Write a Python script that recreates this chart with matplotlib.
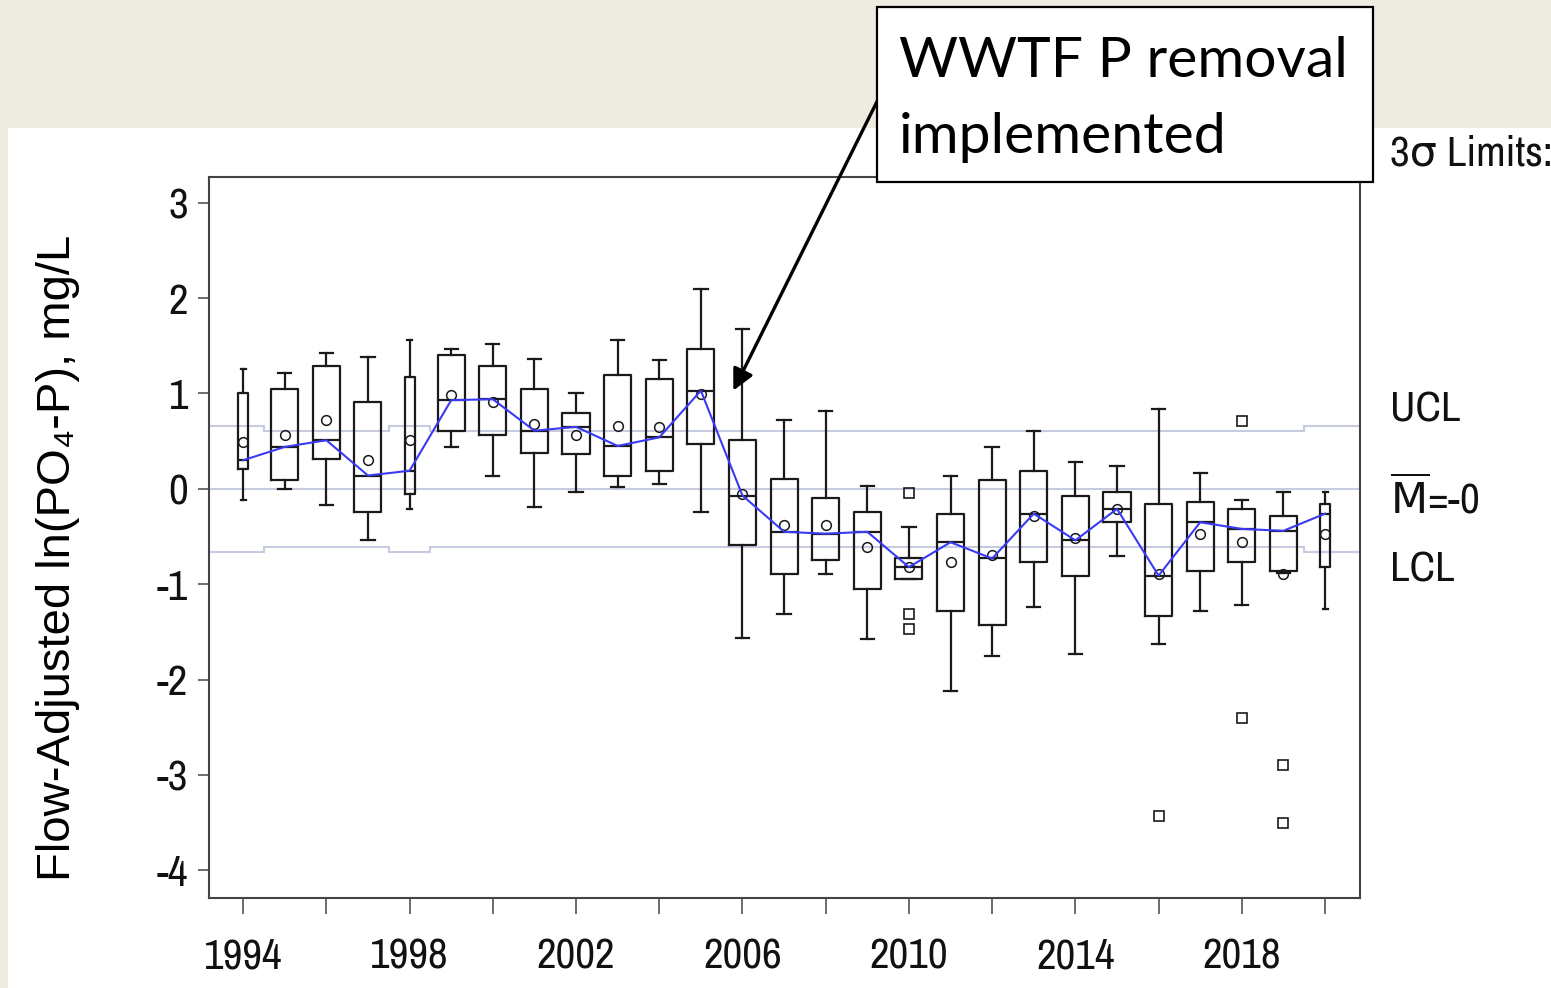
import numpy as np
import matplotlib
matplotlib.use("Agg")
import matplotlib.pyplot as plt
from matplotlib.patches import Rectangle
from matplotlib import font_manager as fm

# ---- data ----
years = list(range(1994, 2021))
whislo = [-0.12, 0.00, -0.17, -0.54, -0.21, 0.44, 0.14, -0.19, -0.03, 0.02, 0.05, -0.24, -1.56,
          -1.31, -0.89, -1.57, -0.94, -2.12, -1.75, -1.24, -1.73, -0.70, -1.63, -1.28, -1.22, -0.88, -1.26]
q1 = [0.21, 0.09, 0.31, -0.24, -0.05, 0.61, 0.56, 0.38, 0.37, 0.14, 0.19, 0.47, -0.59,
      -0.89, -0.75, -1.05, -0.94, -1.28, -1.43, -0.77, -0.91, -0.35, -1.33, -0.86, -0.77, -0.86, -0.82]
med = [0.30, 0.44, 0.51, 0.14, 0.19, 0.93, 0.94, 0.61, 0.65, 0.45, 0.54, 1.03, -0.07,
       -0.45, -0.47, -0.45, -0.82, -0.56, -0.73, -0.26, -0.54, -0.21, -0.91, -0.35, -0.42, -0.44, -0.26]
q3 = [1.00, 1.05, 1.29, 0.91, 1.17, 1.40, 1.29, 1.05, 0.80, 1.19, 1.15, 1.47, 0.51,
      0.10, -0.10, -0.24, -0.72, -0.26, 0.09, 0.19, -0.07, -0.03, -0.16, -0.14, -0.21, -0.28, -0.16]
whishi = [1.26, 1.22, 1.42, 1.38, 1.56, 1.47, 1.52, 1.36, 1.00, 1.56, 1.35, 2.10, 1.68,
          0.72, 0.82, 0.03, -0.40, 0.14, 0.44, 0.61, 0.28, 0.24, 0.84, 0.17, -0.12, -0.03, -0.03]
means = [0.49, 0.56, 0.72, 0.30, 0.51, 0.98, 0.91, 0.68, 0.56, 0.66, 0.65, 0.99, -0.05,
         -0.38, -0.38, -0.61, -0.82, -0.77, -0.69, -0.28, -0.52, -0.21, -0.89, -0.47, -0.56, -0.89, -0.47]
outliers = {2010: [-0.04, -1.31, -1.47], 2016: [-3.43], 2018: [0.71, -2.40], 2019: [-2.90, -3.50]}

# 3-sigma control limits per year
ucl = [0.66, 0.61, 0.61, 0.61, 0.66, 0.61, 0.61, 0.61, 0.61, 0.61, 0.61, 0.61, 0.61,
       0.61, 0.61, 0.61, 0.61, 0.61, 0.61, 0.61, 0.61, 0.61, 0.61, 0.61, 0.61, 0.61, 0.66]
lcl = [-v for v in ucl]
center = 0.0

# years with few samples -> narrow boxes
narrow_years = [1994, 1998, 2020]

# pick a condensed face for the SAS-style labels if one is installed
fonts = fm.fontManager.ttflist
narrow = [f for f in fonts if 'Narrow' in f.name or 'Condensed' in f.name]
cond = [f for f in fonts if f.stretch in ('condensed', 'semi-condensed', 600) or
        'Condensed' in f.fname or 'Narrow' in f.fname]
if narrow:
    fp = fm.FontProperties(family=[narrow[0].name, 'DejaVu Sans'], size=31)
elif cond:
    fp = fm.FontProperties(fname=cond[0].fname, size=30)
else:
    fp = fm.FontProperties(family=['Liberation Sans', 'DejaVu Sans'], size=26)

plt.rcParams['mathtext.fontset'] = 'custom'
plt.rcParams['mathtext.rm'] = fp.get_name()

W, H = 1551, 988
fx = lambda x: x / W
fy = lambda y: 1 - y / H

fig = plt.figure(figsize=(W / 100, H / 100), dpi=100)
fig.patch.set_facecolor('#EEEBE0')
fig.add_artist(Rectangle((fx(8), 0), 1, fy(128), transform=fig.transFigure,
                         facecolor='white', edgecolor='none', zorder=-1))

ax = fig.add_axes([fx(209), fy(898), fx(1360) - fx(209), fy(177) - fy(898)])
ax.set_xlim(1993.18, 2020.84)
ax.set_ylim(-4.29, 3.27)

# control limit lines
lim_col = '#C6CBDF'
edges = np.r_[ax.get_xlim()[0], np.array(years[:-1]) + 0.5, ax.get_xlim()[1]]
ax.stairs(ucl, edges, color=lim_col, lw=1.5, baseline=None, zorder=1)
ax.stairs(lcl, edges, color=lim_col, lw=1.5, baseline=None, zorder=1)
ax.axhline(center, color=lim_col, lw=1.5, zorder=1)

stats = []
for i, yr in enumerate(years):
    stats.append(dict(med=med[i], q1=q1[i], q3=q3[i], whislo=whislo[i], whishi=whishi[i],
                      mean=means[i], fliers=outliers.get(yr, []), label=str(yr)))

widths = [0.24 if yr in narrow_years else 0.65 for yr in years]
capw = [0.12 if yr in narrow_years else 0.32 for yr in years]
lc = '#1a1a1a'
ax.bxp(stats, positions=years, widths=widths, capwidths=capw, showmeans=True,
       manage_ticks=False,
       boxprops=dict(color=lc, lw=1.6),
       whiskerprops=dict(color=lc, lw=1.6),
       capprops=dict(color=lc, lw=1.6),
       medianprops=dict(color=lc, lw=1.6),
       meanprops=dict(marker='o', markerfacecolor='none', markeredgecolor=lc,
                      markersize=7, markeredgewidth=1.1, linestyle=''),
       flierprops=dict(marker='s', markerfacecolor='none', markeredgecolor=lc,
                       markersize=6.5, markeredgewidth=1.2, linestyle=''))

# medians connected
ax.plot(years, med, color='#3A3AF5', lw=1.5, zorder=4)

# axes styling
for s in ax.spines.values():
    s.set_color('#444444')
    s.set_linewidth(1.5)
ax.set_yticks([3, 2, 1, 0, -1, -2, -3, -4])
ax.set_yticklabels(['3', '2', '1', '0', '-1', '-2', '-3', '-4'], fontproperties=fp)
ax.set_xticks(range(1994, 2021, 4))
ax.set_xticklabels([str(y) for y in range(1994, 2021, 4)], fontproperties=fp)
ax.set_xticks(range(1996, 2021, 4), minor=True)
ax.tick_params(axis='y', length=8, width=1.1, color='#444444', pad=7, labelcolor='#111111')
ax.tick_params(axis='x', which='both', length=11.5, width=1.1, color='#444444', pad=17,
               labelcolor='#111111')

# y label
fig.text(fx(58), fy(558), 'Flow-Adjusted ln(PO\u2084-P), mg/L', rotation=90,
         ha='center', va='center', fontsize=34, family=['Liberation Sans', 'DejaVu Sans'])

# right-side limit labels
side = dict(fontproperties=fp, color='#111111', va='baseline', ha='left')
fig.text(fx(1390), fy(166), '3\u03c3 Limits:', **side)
fig.text(fx(1390), fy(422), 'UCL', **side)
fig.text(fx(1390), fy(513), r'$\overline{\mathrm{M}}$=-0', **side)
fig.text(fx(1390), fy(582), 'LCL', **side)

# annotation box + arrow
fig.add_artist(Rectangle((fx(877), fy(182)), fx(1373) - fx(877), fy(7) - fy(182),
                         transform=fig.transFigure, facecolor='white',
                         edgecolor='black', lw=1.6, zorder=5))
ann = dict(family=['Lato', 'DejaVu Sans'], fontsize=41, color='black', ha='left',
           va='baseline', zorder=6)
fig.text(fx(899), fy(77), 'WWTF P removal', **ann)
fig.text(fx(899), fy(153), 'implemented', **ann)
ax.annotate('', xy=(2005.78, 1.03), xytext=(2009.3, 4.12), annotation_clip=False,
            arrowprops=dict(arrowstyle='-|>', color='black', lw=2.4, mutation_scale=32,
                            shrinkA=0, shrinkB=0))

fig.savefig('out.png', dpi=100, facecolor=fig.get_facecolor())
